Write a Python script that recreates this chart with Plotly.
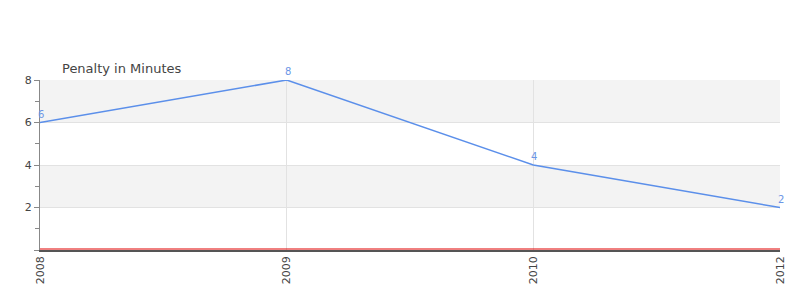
import plotly.graph_objects as go

years = ["2008", "2009", "2010", "2012"]
penalty = [6, 8, 4, 2]
title_text = "Penalty in Minutes"

fig = go.Figure()
fig.add_trace(go.Scatter(
    x=years, y=penalty, mode="lines",
    line=dict(color="#5b8fea", width=1.5),
    cliponaxis=False, hoverinfo="skip", showlegend=False,
))

for lo, hi in [(6, 8), (2, 4)]:
    fig.add_shape(type="rect", xref="paper", yref="y", x0=0, x1=1, y0=lo, y1=hi,
                  fillcolor="#f3f3f3", line=dict(width=0), layer="below")

fig.add_shape(type="line", xref="paper", yref="y", x0=0, x1=1,
              ysizemode="pixel", yanchor=0, y0=1, y1=1,
              line=dict(color="#e00000", width=1))

annots = [dict(text=title_text, xref="paper", yref="paper", x=0.03, y=1.0,
               xanchor="left", yanchor="bottom", yshift=2, xshift=-2, showarrow=False,
               font=dict(size=13, color="#444"))]
for i, yv in enumerate(penalty):
    annots.append(dict(x=i, y=yv, xref="x", yref="y", text=str(yv), showarrow=False,
                       yanchor="bottom", yshift=1, xshift=1,
                       font=dict(size=10, color="#6b96e6")))

fig.update_layout(
    width=800, height=300,
    margin=dict(l=40, r=20, t=80, b=50),
    paper_bgcolor="white", plot_bgcolor="white",
    font=dict(family="DejaVu Sans", size=11, color="#444"),
    annotations=annots,
)
fig.update_xaxes(type="category", range=[0, 3], showgrid=True, gridcolor="#e2e2e2",
                 tickangle=-90, ticks="", showline=True, linecolor="#555",
                 linewidth=1.5, zeroline=False, tickfont=dict(size=11, color="#444"))
fig.update_yaxes(range=[0, 8], tickvals=[0, 2, 4, 6, 8], ticktext=["", "2", "4", "6", "8"],
                 showgrid=True, gridcolor="#e2e2e2",
                 ticks="outside", ticklen=5, tickcolor="#888", showline=True,
                 linecolor="#888", zeroline=False,
                 minor=dict(tickvals=[1, 3, 5, 7], ticks="outside", ticklen=4, tickcolor="#888", showgrid=False),
                 tickfont=dict(size=11, color="#444"))

fig.write_html("out.html")
